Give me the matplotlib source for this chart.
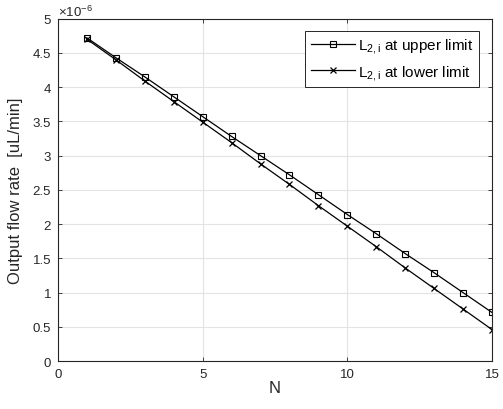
import numpy as np
import matplotlib
matplotlib.use('Agg')
import matplotlib.pyplot as plt
from matplotlib.ticker import FuncFormatter, MultipleLocator

plt.rcParams['font.family'] = ['Liberation Sans', 'DejaVu Sans']
plt.rcParams['mathtext.fontset'] = 'custom'
plt.rcParams['mathtext.rm'] = 'Liberation Sans'
plt.rcParams['mathtext.it'] = 'Liberation Sans'

# data (uL/min)
N = np.arange(1, 16)
upper = np.array([4.72, 4.43, 4.15, 3.86, 3.57, 3.28, 3.00, 2.72, 2.43, 2.14,
                  1.86, 1.57, 1.29, 1.00, 0.71]) * 1e-6
lower = np.array([4.70, 4.40, 4.09, 3.79, 3.49, 3.19, 2.88, 2.58, 2.27, 1.97,
                  1.67, 1.36, 1.06, 0.76, 0.46]) * 1e-6

fig = plt.figure(figsize=(5.03, 4.10), dpi=100)
ax = fig.add_axes([0.1153, 0.117, 0.8627, 0.835])

ax.plot(N, upper, color='black', lw=0.9, marker='s', ms=5, mfc='none', mew=0.8,
        label='L$_{2,i}$ at upper limit')
ax.plot(N, lower, color='black', lw=0.9, marker='x', ms=5, mew=0.9,
        label='L$_{2,i}$ at lower limit')

ax.set_xlim(0, 15)
ax.set_ylim(0, 5e-6)
ax.xaxis.set_major_locator(MultipleLocator(5))
ax.yaxis.set_major_locator(MultipleLocator(0.5e-6))
ax.yaxis.set_major_formatter(FuncFormatter(lambda v, p: '%g' % round(v * 1e6, 2)))

ax.grid(True, color='#e3e3e3', lw=0.8)
ax.set_axisbelow(True)
ax.tick_params(direction='in', top=True, right=True, labelsize=9.5,
               colors='#262626', length=3, width=0.6, pad=5)
for s in ax.spines.values():
    s.set_color('#262626')
    s.set_linewidth(0.8)

ax.text(0.0, 1.0, r'$\times10^{-6}$', transform=ax.transAxes, fontsize=9.5,
        color='#262626', ha='left', va='bottom')

ax.set_xlabel('N', fontsize=12, color='#262626', labelpad=0)
ax.set_ylabel('Output flow rate  [uL/min]', fontsize=12, color='#262626', labelpad=7)

leg = ax.legend(loc='upper right', bbox_to_anchor=(0.97, 0.965), fontsize=11,
                fancybox=False, framealpha=1, edgecolor='#262626',
                handlelength=2.9, handletextpad=0.2, borderpad=0.35,
                labelspacing=0.5, borderaxespad=0)
leg.get_frame().set_linewidth(0.7)

fig.savefig('out.png', dpi=100)
